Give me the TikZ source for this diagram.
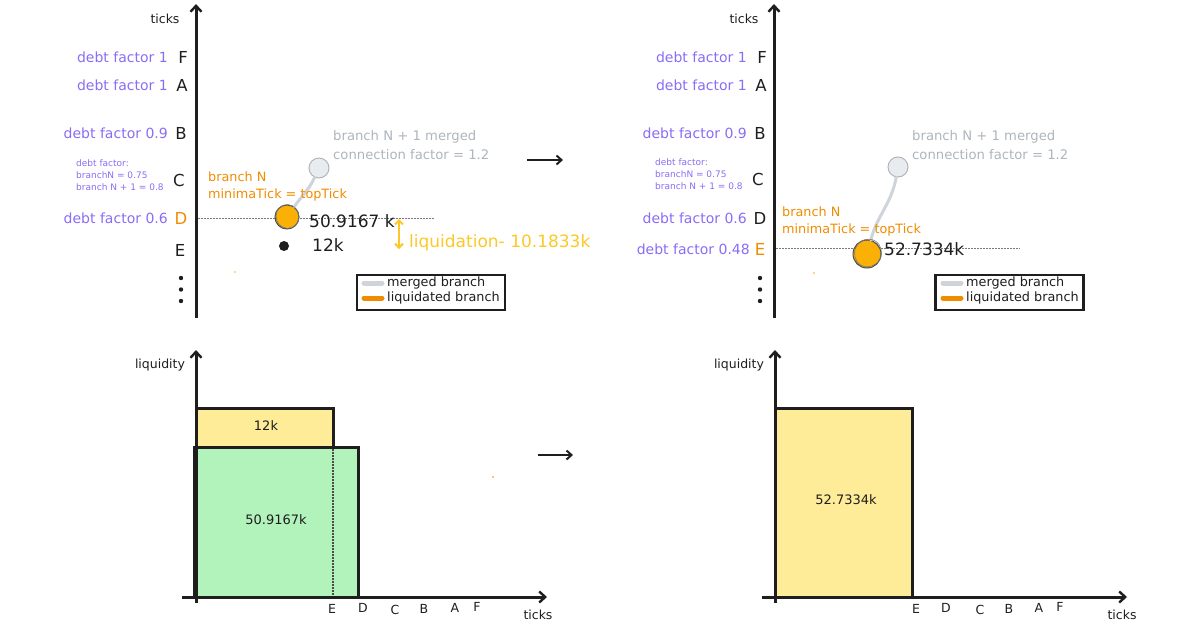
\documentclass[tikz,border=0pt]{standalone}
\usepackage{fontspec}
\setmainfont{DejaVu Sans}
\usetikzlibrary{arrows.meta}
\definecolor{violetT}{HTML}{8B6CF5}
\definecolor{orangeT}{HTML}{F08C00}
\definecolor{orangeF}{HTML}{FAB005}
\definecolor{yellowT}{HTML}{FCC828}
\definecolor{greyT}{HTML}{ADB5BD}
\definecolor{greyF}{HTML}{E9ECEF}
\definecolor{greyL}{HTML}{CED4DA}
\definecolor{greenF}{HTML}{B2F2BB}
\definecolor{yellowF}{HTML}{FFEC99}
\definecolor{inkC}{HTML}{1E1E1E}
\tikzset{
  fs/.style={font=\fontsize{#1}{#1}\selectfont},
  axisline/.style={draw=inkC, line width=3pt, -{Straight Barb[length=6pt,width=11pt,line width=2.4pt]}},
  lblv/.style={fs=14, text=violetT, anchor=east, inner sep=0pt},
  lbls/.style={font=\fontsize{9}{12}\selectfont, text=violetT, anchor=west, inner sep=0pt, align=left},
  tickl/.style={fs=16.5, text=inkC, inner sep=0pt},
  tickb/.style={fs=12.5, text=inkC, inner sep=0pt},
  axlab/.style={fs=12.5, text=inkC, inner sep=0pt},
  orangetxt/.style={fs=12.8, text=orangeT, anchor=west, inner sep=0pt, align=left},
  greytxt/.style={fs=13.2, text=greyT, anchor=west, inner sep=0pt, align=left},
  bigtxt/.style={fs=17, text=inkC, anchor=west, inner sep=0pt},
  ocirc/.style={circle, fill=orangeF, draw=inkC!80, line width=1pt, inner sep=0pt},
  gcirc/.style={circle, fill=greyF, draw=greyT, line width=1pt, minimum size=20pt, inner sep=0pt},
  greylink/.style={draw=greyL, line width=3pt, line cap=round},
  dotline/.style={draw=inkC!60, dash pattern=on 1.5pt off 1.5pt, line width=0.8pt},
  legendbox/.style={draw=inkC, line width=2.4pt, rectangle, inner sep=0pt},
  legtxt/.style={fs=12.8, text=inkC, anchor=west, inner sep=0pt},
  swatch/.style={line width=5pt, line cap=round},
  flowarrow/.style={draw=inkC, line width=2.4pt, -{Straight Barb[length=5pt,width=9pt,line width=2pt]}},
  barbox/.style={draw=inkC, line width=3pt, rectangle, inner sep=0pt, fs=12, text=inkC},
}
\begin{document}
\begin{tikzpicture}[x=1pt,y=-1pt]
\useasboundingbox (0,0) rectangle (1200,630);

% ================= TOP LEFT =================
\coordinate (a1b) at (196,318);
\coordinate (a1t) at (196,4);
\draw[axisline] (a1b) -- (a1t);
\node[axlab] (tk1) at (165,19) {ticks};
\node[tickl] (F1) at (183,57) {F};
\node[tickl] (A1) at (182,85) {A};
\node[tickl] (B1) at (181,133) {B};
\node[tickl] (C1) at (179,180) {C};
\node[tickl, text=orangeT] (D1) at (181,218) {D};
\node[tickl] (E1) at (180,250) {E};
\fill[inkC] (181,278) circle (2.2pt) (181,289.5) circle (2.2pt) (181,301) circle (2.2pt);
\node[lblv] (lf1) at (168,57) {debt factor 1};
\node[lblv] (la1) at (168,85) {debt factor 1};
\node[lblv] (lb1) at (168,133) {debt factor 0.9};
\node[lbls] (lc1) at (76,175) {debt factor:\\branchN = 0.75\\branch N + 1 = 0.8};
\node[lblv] (ld1) at (168,218) {debt factor 0.6};

\coordinate (dl1a) at (198,218);
\coordinate (dl1b) at (435,218);
\draw[dotline] (dl1a) -- (dl1b);

\node[gcirc] (g1) at (319,168) {};
\node[ocirc, minimum size=24pt] (o1) at (287,217) {};
\draw[greylink] (g1) to[out=-115,in=55] (o1);
\node[ocirc, minimum size=24pt, fill=none, draw=inkC!60, line width=0.6pt, rotate=20, xscale=0.95] (o1b) at (287.5,216.5) {};
\node[orangetxt] (bn1) at (208,177) {branch N};
\node[orangetxt] (mt1) at (208,195) {minimaTick = topTick};
\node[greytxt] (gm1) at (333,137) {branch N + 1 merged};
\node[greytxt] (gc1) at (333,155) {connection factor = 1.2};
\node[bigtxt] (v1) at (309,221) {50.9167 k};
\node[circle, fill=inkC, minimum size=10pt, inner sep=0pt] (bd1) at (284,246) {};
\node[bigtxt] (v2) at (312,245) {12k};
\coordinate (ya) at (399,219);
\coordinate (yb) at (399,249);
\draw[draw=yellowT, line width=2pt, {Straight Barb[length=4pt,width=8pt]}-{Straight Barb[length=4pt,width=8pt]}] (ya) -- (yb);
\node[bigtxt, text=yellowT] (liq) at (409,243) {liquidation- 10.1833k};
\fill[orangeF] (235,272) circle (0.9pt);

\node[legendbox, minimum width=148pt, minimum height=35pt] (leg1) at (431,292.5) {};
\coordinate (s1a) at (364,283);
\coordinate (s1b) at (382,283);
\coordinate (s2a) at (364,298);
\coordinate (s2b) at (382,298);
\draw[swatch, draw=greyL] (s1a) -- (s1b);
\draw[swatch, draw=orangeT] (s2a) -- (s2b);
\node[legtxt] (lt1) at (387,283) {merged branch};
\node[legtxt] (lt2) at (387,298) {liquidated branch};

% arrow between top panels
\coordinate (fa1) at (527,160);
\coordinate (fa2) at (563,160);
\draw[flowarrow] (fa1) -- (fa2);

% ================= TOP RIGHT =================
\coordinate (a2b) at (774,318);
\coordinate (a2t) at (774,4);
\draw[axisline] (a2b) -- (a2t);
\node[axlab] (tk2) at (744,19) {ticks};
\node[tickl] (F2) at (762,57) {F};
\node[tickl] (A2) at (761,85) {A};
\node[tickl] (B2) at (760,133) {B};
\node[tickl] (C2) at (758,179) {C};
\node[tickl] (D2) at (760,218) {D};
\node[tickl, text=orangeT] (E2) at (760,249) {E};
\fill[inkC] (760,278) circle (2.2pt) (760,289.5) circle (2.2pt) (760,301) circle (2.2pt);
\node[lblv] (lf2) at (747,57) {debt factor 1};
\node[lblv] (la2) at (747,85) {debt factor 1};
\node[lblv] (lb2) at (747,133) {debt factor 0.9};
\node[lbls] (lc2) at (655,174) {debt factor:\\branchN = 0.75\\branch N + 1 = 0.8};
\node[lblv] (ld2) at (747,218) {debt factor 0.6};
\node[lblv] (le2) at (750,249) {debt factor 0.48};

\coordinate (dl2a) at (776,248);
\coordinate (dl2b) at (1020,248);
\draw[dotline] (dl2a) -- (dl2b);

\node[gcirc] (g2) at (898,167) {};
\node[ocirc, minimum size=28pt] (o2) at (867,254) {};
\draw[greylink] (g2) to[out=-100,in=75] (o2);
\node[ocirc, minimum size=28pt, fill=none, draw=inkC!60, line width=0.6pt, rotate=-30, xscale=0.95] (o2b) at (868,253) {};
\node[orangetxt] (bn2) at (782,212) {branch N};
\node[orangetxt] (mt2) at (782,230) {minimaTick = topTick};
\node[greytxt] (gm2) at (912,137) {branch N + 1 merged};
\node[greytxt] (gc2) at (912,155) {connection factor = 1.2};
\node[bigtxt] (v3) at (884,249) {52.7334k};
\fill[orangeF] (814,273) circle (0.9pt);

\node[legendbox, minimum width=148pt, minimum height=35pt] (leg2) at (1009.5,292.5) {};
\coordinate (s3a) at (943,283);
\coordinate (s3b) at (961,283);
\coordinate (s4a) at (943,298);
\coordinate (s4b) at (961,298);
\draw[swatch, draw=greyL] (s3a) -- (s3b);
\draw[swatch, draw=orangeT] (s4a) -- (s4b);
\node[legtxt] (lt3) at (966,283) {merged branch};
\node[legtxt] (lt4) at (966,298) {liquidated branch};

% ================= BOTTOM LEFT =================
\node[barbox, fill=greenF, minimum width=164pt, minimum height=150pt] (gb) at (276,522) {};
\node[barbox, fill=yellowF, minimum width=137pt, minimum height=39pt] (yb1) at (264.5,427.5) {};
\node[fs=13, text=inkC] (t12k) at (266,426) {12k};
\node[fs=13, text=inkC] (t509) at (276,520) {50.9167k};
\coordinate (vd1) at (333,449);
\coordinate (vd2) at (333,596);
\draw[dotline, draw=inkC!80, line width=1.4pt] (vd1) -- (vd2);
\coordinate (b1o) at (196,603);
\coordinate (b1t) at (196,350);
\coordinate (b1l) at (182,597);
\coordinate (b1r) at (547,597);
\draw[axisline] (b1o) -- (b1t);
\draw[axisline] (b1l) -- (b1r);
\node[axlab] (liq1) at (160,365) {liquidity};
\node[tickb] (xE1) at (332,609) {E};
\node[tickb] (xD1) at (363,608) {D};
\node[tickb] (xC1) at (395,610) {C};
\node[tickb] (xB1) at (424,609) {B};
\node[tickb] (xA1) at (455,608) {A};
\node[tickb] (xF1) at (477,607) {F};
\node[axlab] (xt1) at (538,615) {ticks};
\coordinate (fa3) at (538,455);
\coordinate (fa4) at (573,455);
\draw[flowarrow] (fa3) -- (fa4);
\fill[orangeT] (493,477) circle (0.9pt);

% ================= BOTTOM RIGHT =================
\node[barbox, fill=yellowF, minimum width=137pt, minimum height=189pt] (yb2) at (843.5,502.5) {};
\node[fs=13, text=inkC] (t527) at (846,500) {52.7334k};
\coordinate (b2o) at (775,603);
\coordinate (b2t) at (775,350);
\coordinate (b2l) at (762,597);
\coordinate (b2r) at (1127,597);
\draw[axisline] (b2o) -- (b2t);
\draw[axisline] (b2l) -- (b2r);
\node[axlab] (liq2) at (739,365) {liquidity};
\node[tickb] (xE2) at (916,609) {E};
\node[tickb] (xD2) at (946,608) {D};
\node[tickb] (xC2) at (980,610) {C};
\node[tickb] (xB2) at (1009,609) {B};
\node[tickb] (xA2) at (1039,608) {A};
\node[tickb] (xF2) at (1060,607) {F};
\node[axlab] (xt2) at (1122,615) {ticks};
\end{tikzpicture}
\end{document}
